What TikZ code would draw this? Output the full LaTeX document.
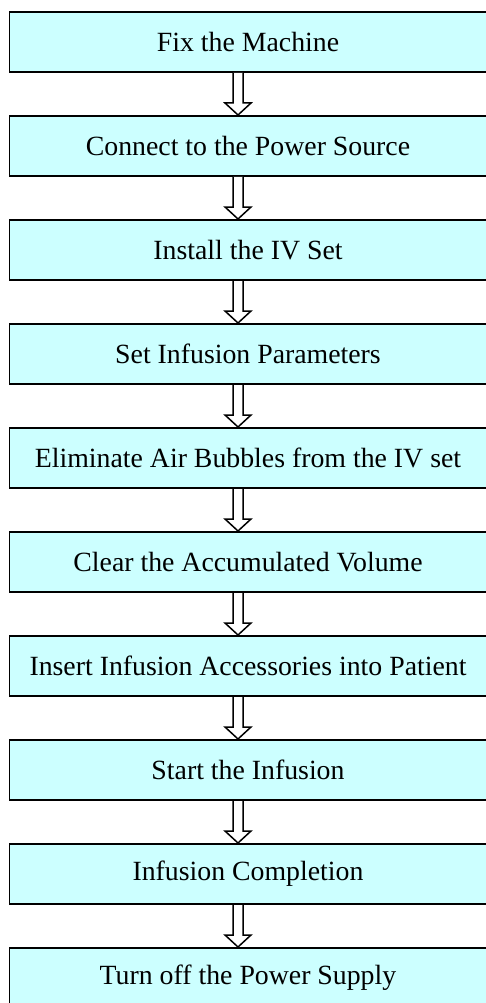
\documentclass[tikz,border=0pt]{standalone}
\usepackage{fontspec}
\setmainfont{Liberation Serif}
\usepackage{tikz}
\usetikzlibrary{positioning,shadows}
\definecolor{boxcyan}{RGB}{204,255,255}
\tikzset{
  font={\fontsize{27.8pt}{30pt}\selectfont}}

\begin{document}
\begin{tikzpicture}[x=1pt,y=1pt]
\tikzstyle{stepbox}=[draw=black, line width=1.7pt, fill=boxcyan, inner sep=0pt,
  minimum width=477pt, minimum height=60.3pt,
  drop shadow={shadow xshift=0.5pt, shadow yshift=-1.3pt, fill=black!55, opacity=0.8}]
\tikzstyle{hollow}=[draw=black, line width=1.5pt, fill=white, line join=miter]
\useasboundingbox (0,0) rectangle (485,-1003);
\node [stepbox] (fix) at (248,-42) {Fix the Machine};
\node [stepbox, below=42pt of fix] (power) {Connect to the Power Source};
\node [stepbox, below=42pt of power] (ivset) {Install the IV Set};
\node [stepbox, below=42pt of ivset] (param) {Set Infusion Parameters};
\node [stepbox, below=42pt of param] (air) {Eliminate Air Bubbles from the IV set};
\node [stepbox, below=42pt of air] (clear) {Clear the Accumulated Volume};
\node [stepbox, below=42pt of clear] (insert) {Insert Infusion Accessories into Patient};
\node [stepbox, below=42pt of insert] (start) {Start the Infusion};
\node [stepbox, below=42pt of start] (done) {Infusion Completion};
\node [stepbox, below=42pt of done] (off) {Turn off the Power Supply};
% hollow arrows between the steps
\foreach \a/\b in {fix/power,power/ivset,ivset/param,param/air,air/clear,
                   clear/insert,insert/start,start/done,done/off}
  \draw [hollow] ([xshift=-15pt]\a.south) -- ([xshift=-15pt,yshift=12pt]\b.north)
    -- ([xshift=-23pt,yshift=12pt]\b.north) -- ([xshift=-10pt]\b.north)
    -- ([xshift=3pt,yshift=12pt]\b.north) -- ([xshift=-5pt,yshift=12pt]\b.north)
    -- ([xshift=-5pt]\a.south);
\end{tikzpicture}
\end{document}
